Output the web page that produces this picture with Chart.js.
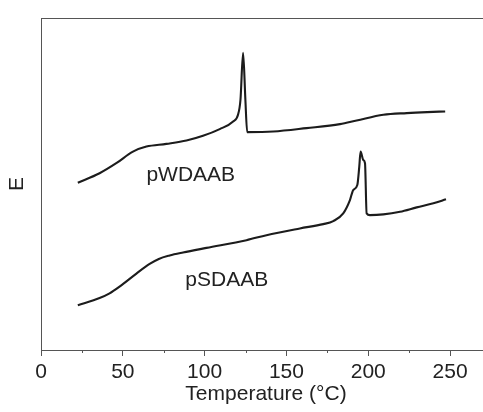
<!DOCTYPE html>
<html>
<head>
<meta charset="utf-8">
<script src="https://cdn.jsdelivr.net/npm/chart.js@4.4.0/dist/chart.umd.min.js"></script>
<style>
  html, body { margin: 0; padding: 0; background: #fff; overflow: hidden; }
  #wrap { width: 500px; height: 412px; }
</style>
</head>
<body>
<div id="wrap"><canvas id="dsc_chart"></canvas></div>
<script>
//
// data (y in arbitrary units)
//
var pw_temp = [22.5, 35.8, 46, 56.2, 64.4, 76.6, 88.9, 99, 109.2, 117.4, 120.4, 121.9, 123.5, 124.9, 126, 141.9, 162.3, 182.7, 192.9, 209.2, 223.5, 236, 247];
var pw_val  = [166.8, 176.2, 186.2, 197.8, 202.8, 205.5, 208.8, 213.5, 220.2, 227.8, 234.5, 249.5, 296.2, 249.5, 217.2, 217.8, 221.2, 225.2, 228.8, 234.5, 236.2, 237.2, 237.8];

var ps_temp = [22.5, 35.8, 41.9, 48, 58.3, 66.4, 72, 78.6, 86.8, 101.1, 125.6, 137.8, 158.2, 172.5, 178.6, 184.7, 188.8, 190.8, 193.3, 194.5, 195.3, 196.9, 198, 199, 201, 209.2, 219.4, 229.6, 239.8, 247.5];
var ps_val  = [44.5, 51.8, 56.5, 63.2, 76.2, 85.8, 90.8, 94.2, 97.2, 101.8, 109.5, 114.5, 121.2, 125.5, 128.5, 136.2, 149.5, 159.5, 164.5, 182.8, 197.8, 189.5, 186.2, 136.2, 134.5, 135.2, 137.8, 142.2, 146.2, 150.2];

var x_ticks = [0, 50, 100, 150, 200, 250];
var curve_labels = [
  {text : 'pWDAAB', x : 91.5, y : 168},
  {text : 'pSDAAB', x : 113.5, y : 63.5}
];

var font_family = "'Liberation Sans', Arial, Helvetica, sans-serif";
var text_color = '#222';
var axis_color = '#555';

function toPoints(xs, ys) {
  var pts = [];
  for (var i = 0; i < xs.length; i++) {
    pts.push({x : xs[i], y : ys[i]});
  }
  return pts;
}

//
// plugin: minor ticks + curve labels
//
var extras_plugin = {
  id : 'extras',
  afterDraw : function(chart) {
    var ctx = chart.ctx;
    var xs = chart.scales.x;
    var ys = chart.scales.y;
    var area = chart.chartArea;
    ctx.save();
    // minor ticks between the labelled ones
    ctx.strokeStyle = axis_color;
    ctx.lineWidth = 1;
    for (var i = 0; i < x_ticks.length; i++) {
      var v = x_ticks[i] + 25;
      if (v > xs.max) continue;
      var px = Math.round(xs.getPixelForValue(v)) + 0.5;
      ctx.beginPath();
      ctx.moveTo(px, area.bottom);
      ctx.lineTo(px, area.bottom + 3);
      ctx.stroke();
    }
    // labels next to the curves
    ctx.fillStyle = text_color;
    ctx.font = '21px ' + font_family;
    ctx.textAlign = 'center';
    ctx.textBaseline = 'alphabetic';
    for (var j = 0; j < curve_labels.length; j++) {
      var lb = curve_labels[j];
      ctx.fillText(lb.text, xs.getPixelForValue(lb.x), ys.getPixelForValue(lb.y));
    }
    ctx.restore();
  }
};

var line_style = {
  borderColor : '#1c1c1c',
  borderWidth : 2.1,
  pointRadius : 0,
  fill : false,
  cubicInterpolationMode : 'monotone'
};

var chart_config = {
  type : 'line',
  data : {
    datasets : [
      Object.assign({label : 'pWDAAB', data : toPoints(pw_temp, pw_val)}, line_style),
      Object.assign({label : 'pSDAAB', data : toPoints(ps_temp, ps_val)}, line_style)
    ]
  },
  options : {
    responsive : true,
    maintainAspectRatio : false,
    animation : false,
    layout : {padding : {top : 18, right : 9, left : 0, bottom : 0}},
    plugins : {legend : {display : false}, tooltip : {enabled : false}},
    scales : {
      x : {
        type : 'linear',
        position : 'bottom',
        min : 0,
        max : 275,
        afterBuildTicks : function(scale) {
          scale.ticks = x_ticks.map(function(v) { return {value : v}; });
        },
        afterFit : function(scale) { scale.height = 62; },
        grid : {display : true, drawOnChartArea : false, tickLength : 6, color : axis_color},
        border : {display : true, color : axis_color, width : 1},
        ticks : {color : text_color, font : {size : 21, family : font_family}, padding : 4, maxRotation : 0},
        title : {
          display : true,
          text : 'Temperature (°C)',
          color : text_color,
          font : {size : 21, family : font_family},
          padding : {top : 0, bottom : 5}
        }
      },
      x2 : {
        type : 'linear',
        position : 'top',
        min : 0,
        max : 275,
        afterFit : function(scale) { scale.height = 0; },
        grid : {display : false},
        border : {display : true, color : axis_color, width : 1},
        ticks : {display : false}
      },
      y : {
        type : 'linear',
        min : 0,
        max : 331,
        afterFit : function(scale) { scale.width = 41; },
        grid : {display : false},
        border : {display : true, color : axis_color, width : 1},
        ticks : {display : false},
        title : {
          display : true,
          text : 'E',
          color : text_color,
          font : {size : 21, family : font_family},
          padding : {top : 5, bottom : 0}
        }
      }
    }
  },
  plugins : [extras_plugin]
};

var ctx = document.getElementById('dsc_chart').getContext('2d');
var dsc_chart = new Chart(ctx, chart_config);
</script>
</body>
</html>
